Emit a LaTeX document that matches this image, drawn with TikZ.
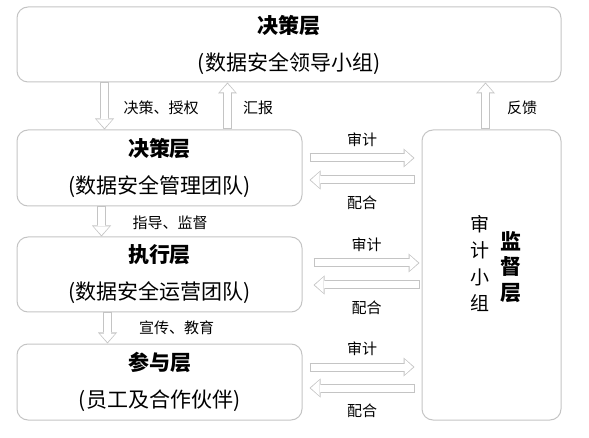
\documentclass[tikz,border=0pt]{standalone}
\usepackage{fontspec}
\setmainfont{Noto Sans CJK SC}
\usetikzlibrary{arrows.meta,positioning,calc}

\definecolor{lgray}{RGB}{196,196,196}

\begin{document}
\begin{tikzpicture}[x=1pt, y=-1pt,
    layer/.style={draw=lgray, line width=1pt, rounded corners=11pt, inner sep=0pt,
        align=center, font=\fontsize{21}{37}\selectfont},
    hollow/.style={draw=lgray, line width=9pt,
        -{Triangle[length=11pt, width=19pt, line width=0pt 0]},
        postaction={draw=white, line width=7pt, shorten <=1pt, shorten >=1.4pt,
            -{Triangle[length=8.6pt, width=15.6pt, line width=0pt 0]}}},
    lbl/.style={font=\fontsize{15}{17}\selectfont, inner sep=1pt},
    vtext/.style={align=center, inner sep=0pt, font=\fontsize{19}{26.5}\selectfont}]
    \useasboundingbox (0,0) rectangle (589,438);

    % Layers
    \node[layer, minimum width=544, minimum height=75] (top) at (289,44.5)
        {\textbf{决策层}\\(数据安全领导小组)};
    \node[layer, minimum width=285, minimum height=76] (mgmt) at (159.5,168)
        {\textbf{决策层}\\(数据安全管理团队)};
    \node[layer, minimum width=285, minimum height=75] (ops) at (159.5,274.5)
        {\textbf{执行层}\\(数据安全运营团队)};
    \node[layer, minimum width=285, minimum height=76] (part) at (159.5,382)
        {\textbf{参与层}\\(员工及合作伙伴)};
    \node[layer, minimum width=139, minimum height=290] (audit) at (491.5,275) {};
    \node[vtext] (grp) at (480,263.5) {审\\计\\小\\组};
    \node[vtext, font=\fontsize{21}{25.7}\selectfont\bfseries] (sup) at (511,267) {监\\督\\层};

    % Vertical flows
    \draw[hollow] ([xshift=88]top.south west) -- ([xshift=88]mgmt.north west);
    \draw[hollow] ([xshift=211]mgmt.north west) -- ([xshift=211]top.south west);
    \coordinate (fb) at ([xshift=64]audit.north west);
    \draw[hollow] (fb) -- (fb |- top.south);
    \draw[hollow] ([xshift=85]mgmt.south west) -- ([xshift=85]ops.north west);
    \draw[hollow] ([xshift=91]ops.south west) -- ([xshift=91]part.north west);
    \node[lbl] (auth) at (161,108) {决策、授权};
    \node[lbl] (rep) at (258,108) {汇报};
    \node[lbl] (feed) at (522,108) {反馈};
    \node[lbl] (guide) at (170,223) {指导、监督};
    \node[lbl] (teach) at (176.5,328) {宣传、教育};

    % Audit and cooperation
    \foreach \n/\ya/\yb/\da/\db in {mgmt/158/180/7/7, ops/263/285/11/2, part/367/388/7/7} {
        \draw[hollow] ($(\n.east |- 0,\ya)+(\da,0)$) -- ($(audit.west |- 0,\ya)-(\db,0)$);
        \draw[hollow] ($(audit.west |- 0,\yb)-(\db,0)$) -- ($(\n.east |- 0,\yb)+(\da,0)$);
        \path ($(\n.east |- 0,\ya)+(\da,0)$) -- ($(audit.west |- 0,\ya)-(\db,0)$)
            node[lbl, midway, yshift=18] (chk-\n) {审计};
        \path ($(\n.east |- 0,\yb)+(\da,0)$) -- ($(audit.west |- 0,\yb)-(\db,0)$)
            node[lbl, midway, yshift=-23] (coop-\n) {配合};
    }
\end{tikzpicture}
\end{document}
